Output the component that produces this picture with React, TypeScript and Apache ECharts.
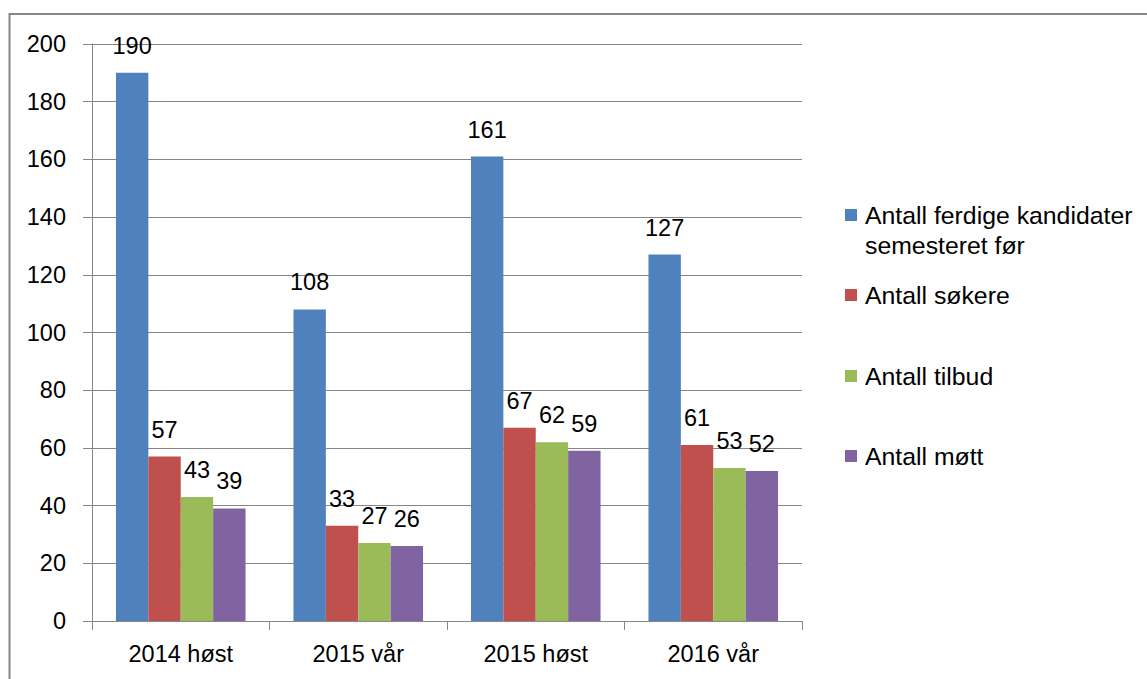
import React, { useEffect, useRef } from "react";
import * as echarts from "echarts";

const categories = ["2014 høst", "2015 vår", "2015 høst", "2016 vår"];
const seriesNames = [
  "Antall ferdige kandidater semesteret før",
  "Antall søkere",
  "Antall tilbud",
  "Antall møtt",
];
const ferdige = [190, 108, 161, 127];
const sokere = [57, 33, 67, 61];
const tilbud = [43, 27, 62, 53];
const mott = [39, 26, 59, 52];
const colors = ["#4F81BD", "#C0504D", "#9BBB59", "#8064A2"];
const legendCenters = [215, 295, 376, 456];

const FONT = "Liberation Sans";

export default function App() {
  const ref = useRef<HTMLDivElement>(null);
  useEffect(() => {
    if (!ref.current) return;
    const chart = echarts.init(ref.current, null, { renderer: "svg" });
    const values = [ferdige, sokere, tilbud, mott];
    const series = seriesNames.map((name, i) => ({
      name,
      type: "bar",
      data: values[i],
      barGap: "0%",
      barCategoryGap: "27%",
      itemStyle: { color: colors[i] },
      label: {
        show: true,
        position: "top",
        distance: 15,
        color: "#000",
        fontFamily: FONT,
        fontSize: 23.5,
      },
    }));
    const legends = seriesNames.map((name, i) => {
      const multi = i === 0;
      const lh = 30;
      const h = multi ? lh * 3 : lh;
      return {
        data: [name],
        left: 840,
        top: legendCenters[i] - h / 2 - 5,
        orient: "vertical",
        itemWidth: 12,
        itemHeight: 12,
        icon: "rect",
        selectedMode: false,
        formatter: multi
          ? () => " \nAntall ferdige kandidater\nsemesteret før"
          : undefined,
        textStyle: {
          color: "#000",
          fontFamily: FONT,
          fontSize: 24.8,
          lineHeight: lh,
          padding: [0, 0, 0, 3],
        },
      };
    });
    chart.setOption({
      animation: false,
      textStyle: { fontFamily: FONT },
      grid: { left: 92, right: 345, top: 44, bottom: 58, containLabel: false },
      legend: legends,
      xAxis: {
        type: "category",
        data: categories,
        axisLine: { lineStyle: { color: "#868686", width: 1 } },
        axisTick: { show: true, length: 9, lineStyle: { color: "#868686" } },
        axisLabel: {
          color: "#000",
          fontFamily: FONT,
          fontSize: 23.5,
          margin: 21,
        },
      },
      yAxis: {
        type: "value",
        min: 0,
        max: 200,
        interval: 20,
        axisLine: { show: true, lineStyle: { color: "#868686", width: 1 } },
        axisTick: { show: true, length: 9, lineStyle: { color: "#868686" } },
        splitLine: { show: true, lineStyle: { color: "#868686", width: 1 } },
        axisLabel: {
          color: "#000",
          fontFamily: FONT,
          fontSize: 23.5,
          margin: 26,
        },
      },
      graphic: [
        {
          type: "rect",
          shape: { x: 9.5, y: 14, width: 1200, height: 700 },
          style: { fill: "none", stroke: "#868686", lineWidth: 2 },
          silent: true,
        },
      ],
      series,
    });
    return () => chart.dispose();
  }, []);
  return (
    <div
      ref={ref}
      style={{ position: "fixed", left: 0, top: 0, width: 1147, height: 679, background: "#fff" }}
    />
  );
}
